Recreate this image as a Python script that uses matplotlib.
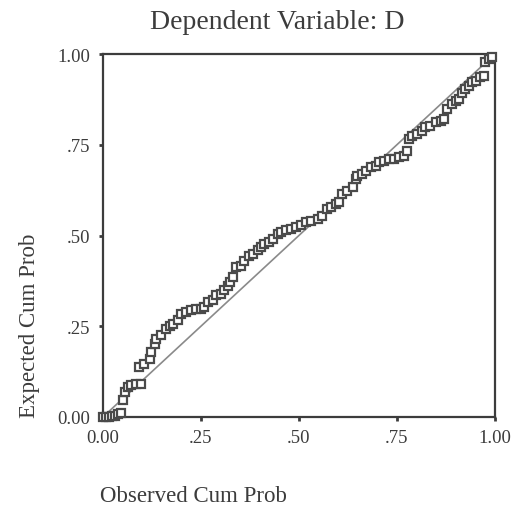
import numpy as np
import matplotlib.pyplot as plt

plt.rcParams['font.family'] = ['Liberation Serif', 'DejaVu Serif']

# observed / expected cumulative probabilities
observed = [0.000, 0.008, 0.015, 0.022, 0.030, 0.038, 0.045,
            0.051, 0.055, 0.064, 0.072, 0.085, 0.098, 0.093, 0.106,
            0.119, 0.123, 0.132, 0.136, 0.149, 0.161, 0.170, 0.178,
            0.191, 0.199, 0.212, 0.225, 0.238, 0.250, 0.259, 0.267,
            0.280, 0.289, 0.301, 0.310, 0.318, 0.323, 0.331, 0.340,
            0.352, 0.361, 0.374, 0.382, 0.395, 0.403, 0.412, 0.424,
            0.433, 0.446, 0.454, 0.467, 0.480, 0.492, 0.505, 0.518,
            0.531, 0.548, 0.560, 0.573, 0.581, 0.594, 0.603, 0.611,
            0.624, 0.637, 0.645, 0.649, 0.662, 0.671, 0.683, 0.696,
            0.705, 0.717, 0.730, 0.743, 0.756, 0.768, 0.777, 0.781,
            0.789, 0.802, 0.815, 0.823, 0.836, 0.849, 0.862, 0.870,
            0.879, 0.891, 0.900, 0.908, 0.917, 0.925, 0.934, 0.942,
            0.951, 0.963, 0.972, 0.976, 0.985, 0.993]
expected = [0.000, 0.000, 0.000, 0.002, 0.004, 0.008, 0.012,
            0.046, 0.069, 0.083, 0.087, 0.092, 0.092, 0.138, 0.147,
            0.161, 0.179, 0.202, 0.216, 0.225, 0.243, 0.252, 0.257,
            0.266, 0.284, 0.289, 0.294, 0.298, 0.298, 0.303, 0.317,
            0.321, 0.335, 0.339, 0.349, 0.362, 0.372, 0.385, 0.413,
            0.417, 0.431, 0.445, 0.450, 0.459, 0.468, 0.477, 0.482,
            0.491, 0.505, 0.509, 0.514, 0.518, 0.523, 0.528, 0.537,
            0.541, 0.546, 0.555, 0.573, 0.578, 0.587, 0.592, 0.615,
            0.624, 0.633, 0.656, 0.665, 0.670, 0.679, 0.688, 0.693,
            0.702, 0.706, 0.711, 0.711, 0.716, 0.720, 0.734, 0.766,
            0.775, 0.780, 0.789, 0.798, 0.803, 0.812, 0.817, 0.821,
            0.849, 0.862, 0.872, 0.876, 0.894, 0.904, 0.913, 0.922,
            0.927, 0.936, 0.940, 0.977, 0.986, 0.991]

ticks = [0.0, 0.25, 0.5, 0.75, 1.0]
tick_labels = ['0.00', '.25', '.50', '.75', '1.00']

ink = '#3c3c3c'

fig = plt.figure(figsize=(5.28, 5.06), dpi=100)
ax = fig.add_axes([0.195, 0.174, 0.742, 0.717])

ax.plot([0, 1], [0, 1], color='#8a8a8a', lw=1.2, zorder=2)
ax.plot(observed, expected, 's', ms=5.4, mfc='white', mec='#4a4a4a',
        mew=1.6, zorder=3, clip_on=False)

ax.set_xlim(0, 1)
ax.set_ylim(0, 1)
ax.set_xticks(ticks)
ax.set_xticklabels(tick_labels)
ax.set_yticks(ticks)
ax.set_yticklabels(tick_labels)
ax.tick_params(direction='out', length=3, width=2, color=ink,
               labelsize=13.5, labelcolor=ink, pad=6)

for s in ax.spines.values():
    s.set_color(ink)
    s.set_linewidth(1.6)

fig.text(0.525, 0.956, 'Dependent Variable: D', fontsize=20, color=ink,
         ha='center', va='center')

# SPSS puts the axis titles at the start of each axis
fig.text(0.189, 0.008, 'Observed Cum Prob', fontsize=16.5, color=ink,
         ha='left', va='baseline')
fig.text(0.056, 0.174, 'Expected Cum Prob', fontsize=16.5, color=ink,
         rotation=90, ha='center', va='bottom')

fig.savefig('out.png', dpi=100)
